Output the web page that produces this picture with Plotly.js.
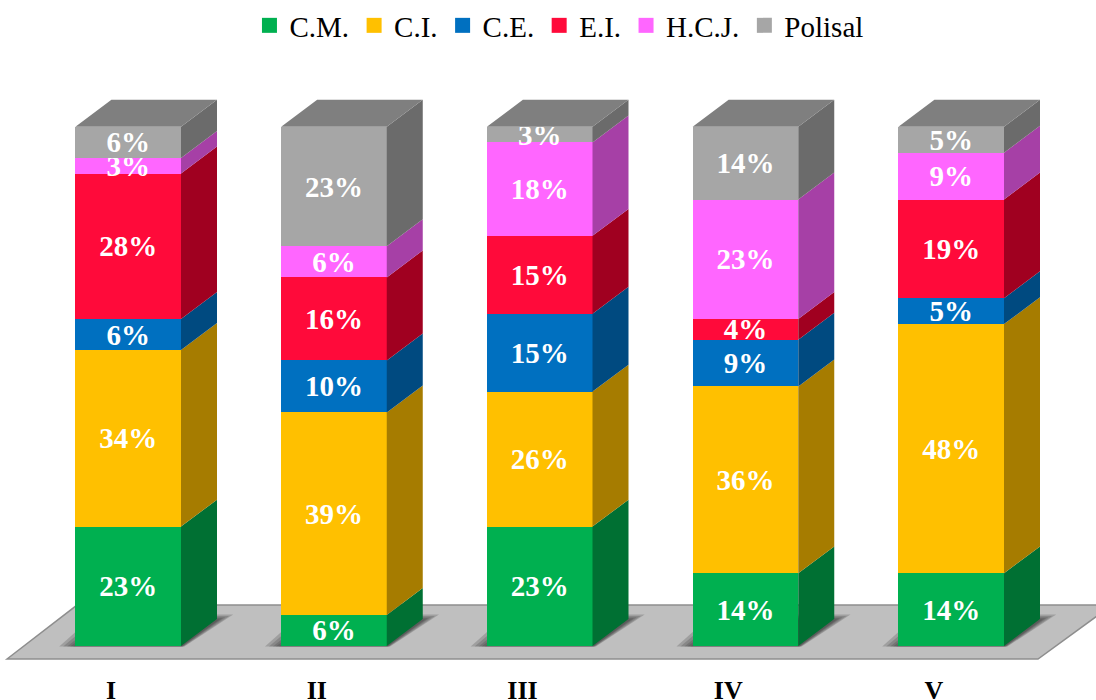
<!DOCTYPE html>
<html><head><meta charset="utf-8">
<script src="https://cdn.plot.ly/plotly-3.0.1.min.js"></script>
<style>html,body{margin:0;padding:0;background:#fff;overflow:hidden}</style>
</head><body><div id="chart" style="width:1096px;height:700px"></div>
<script>
const categories = ["I","II","III","IV","V"];
const seriesNames = ["C.M.","C.I.","C.E.","E.I.","H.C.J.","Polisal"];
const cm = [23,6,23,14,14];
const ci = [34,39,26,36,48];
const ce = [6,10,15,9,5];
const ei = [28,16,15,4,19];
const hcj = [3,6,18,23,9];
const polisal = [6,23,3,14,5];
const allSeries = [cm,ci,ce,ei,hcj,polisal];
const frontColors = ["#00B050","#FFC000","#0070C0","#FF0A3A","#FF66FF","#A6A6A6"];
const sideColors = ["#007033","#A67C00","#004A80","#A00020","#A640A6","#6B6B6B"];
const topColor = "#7F7F7F";

// pixel geometry of the pseudo-3D chart -> axis units
const W=1096,H=700,mb=30,plotH=H-mb;
const pxPerCat=205.75, labelPx0=111, pxPerPct=5.2, basePx=646;
const xr=[-labelPx0/pxPerCat,(W-labelPx0)/pxPerCat];
const yr=[(basePx-plotH)/pxPerPct,basePx/pxPerPct];
const fx=p=>(p-labelPx0)/pxPerCat, fy=p=>(basePx-p)/pxPerPct;
const dx=36/pxPerCat, dy=27/pxPerPct, barW=105.6/pxPerCat;
const centers=categories.map((c,i)=>i+(36/2-0.8)/pxPerCat);

const traces=[];
allSeries.forEach((vals,s)=>{
  traces.push({type:"bar",name:seriesNames[s],x:centers,y:vals,width:barW,showlegend:false,
    marker:{color:frontColors[s],line:{width:0}},
    text:vals.map(v=>v+"%"),textposition:"inside",insidetextanchor:"middle",
    constraintext:"none",textangle:0,cliponaxis:false,
    textfont:{family:"Liberation Serif",size:29,color:"#fff",weight:"bold"},
    hovertemplate:seriesNames[s]+": %{y}%<extra></extra>"});
});
// side faces
const base=categories.map(()=>0);
allSeries.forEach((vals,s)=>{
  const xs=[],ys=[];
  vals.forEach((v,i)=>{
    const xr0=centers[i]+barW/2,b=base[i],t=b+v;
    xs.push(xr0,xr0+dx,xr0+dx,xr0,xr0,null);
    ys.push(b,b+dy,t+dy,t,b,null);
    base[i]=t;
  });
  traces.push({type:"scatter",mode:"lines",x:xs,y:ys,fill:"toself",fillcolor:sideColors[s],
    line:{width:0,color:sideColors[s]},showlegend:false,hoverinfo:"skip"});
});
// top faces
{const xs=[],ys=[];
 centers.forEach((c,i)=>{
  const l=c-barW/2,r=c+barW/2,t=base[i];
  xs.push(l,r,r+dx,l+dx,l,null); ys.push(t,t,t+dy,t+dy,t,null);
 });
 traces.push({type:"scatter",mode:"lines",x:xs,y:ys,fill:"toself",fillcolor:topColor,
   line:{width:0,color:topColor},showlegend:false,hoverinfo:"skip"});
}
// legend entries with the reference's larger square swatches
seriesNames.forEach((n,s)=>{
  traces.push({type:"scatter",mode:"markers",name:n,x:[null],y:[null],
    marker:{symbol:"square",size:15,color:frontColors[s],line:{width:0}},hoverinfo:"skip"});
});
// floor and soft shadows
const poly=pts=>"M"+pts.map(p=>fx(p[0])+","+fy(p[1])).join("L")+"Z";
const shapes=[{type:"path",layer:"below",path:poly([[7,659],[77,605],[1112,605],[1038,659]]),
  fillcolor:"#BFBFBF",line:{color:"#8E8E8E",width:1.5}}];
centers.forEach(c=>{
  const cpx=labelPx0+c*pxPerCat, l=cpx-53, r=cpx+53;
  [16,12,8,5,2].forEach(e=>{
    shapes.push({type:"path",layer:"below",
      path:poly([[l-e,646.5],[r+e*0.2,646.5],[r+36+e,620-e*0.35],[l+36-e,620-e*0.35]]),
      fillcolor:"rgba(60,60,60,0.24)",line:{width:0}});
  });
});
const layout={width:W,height:H,autosize:false,
  margin:{l:0,r:0,t:0,b:mb,pad:0},
  paper_bgcolor:"#fff",plot_bgcolor:"rgba(0,0,0,0)",
  barmode:"stack",showlegend:true,shapes:shapes,
  font:{family:"Liberation Serif",color:"#000"},
  legend:{orientation:"h",traceorder:"normal",x:0.51,xanchor:"center",y:1-25/plotH,yanchor:"middle",
    font:{family:"Liberation Serif",size:29,color:"#000"},indentation:0,
    itemclick:false,itemdoubleclick:false,bgcolor:"rgba(0,0,0,0)"},
  xaxis:{type:"linear",range:xr,tickmode:"array",tickvals:categories.map((c,i)=>i),ticktext:categories,
    showgrid:false,zeroline:false,showline:false,ticks:"",ticklabelstandoff:2,
    tickfont:{family:"Liberation Serif",size:26,color:"#000",weight:"bold"},fixedrange:true},
  yaxis:{range:yr,showgrid:false,zeroline:false,showline:false,ticks:"",showticklabels:false,fixedrange:true}
};
Plotly.newPlot("chart",traces,layout,{displayModeBar:false,responsive:false});
</script></body></html>
